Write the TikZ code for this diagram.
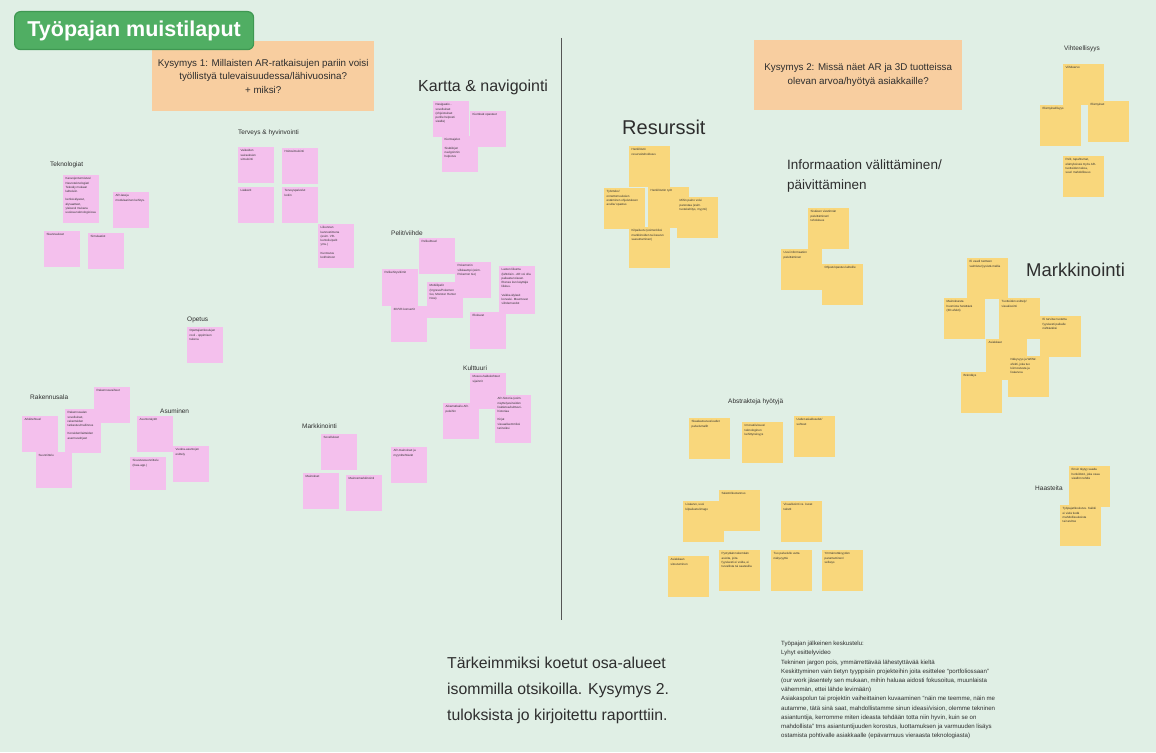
\documentclass[tikz,border=0pt]{standalone}
\usepackage{fontspec}
\setmainfont{Liberation Sans}
\usepackage{tikz}
\usetikzlibrary{positioning}
\definecolor{boardbg}{HTML}{E0EFE5}
\definecolor{notepink}{HTML}{F4C0ED}
\definecolor{noteyellow}{HTML}{F9D77C}
\definecolor{askfill}{HTML}{F8CEA0}
\definecolor{badgegreen}{HTML}{50AE63}
\definecolor{badgeline}{HTML}{3F9852}
\definecolor{inkdark}{HTML}{2E2E2E}
\definecolor{divline}{HTML}{555555}
\newcommand\notefont{\fontsize{3}{4.2}\selectfont}
\tikzset{
  notew/.store in=\notew, notew=31pt,
  noteh/.store in=\noteh, noteh=31pt,
  pnote/.style = {anchor=north west, fill=notepink, inner sep=2.5pt, font=\notefont,
                  text=inkdark, notew=31pt, noteh=31pt,
                  execute at begin node={\begin{minipage}[t][\noteh][t]{\notew}\raggedright},
                  execute at end node={\end{minipage}}},
  ynote/.style = {pnote, fill=noteyellow, notew=36pt, noteh=36pt},
  ask/.style   = {anchor=north west, fill=askfill, align=center, text=inkdark,
                  font=\fontsize{9.8}{13.6}\selectfont, inner sep=0pt},
  head/.style  = {anchor=west, inner sep=0pt, text=inkdark, font=\fontsize{6.5}{8}\selectfont},
  bighead/.style={anchor=west, inner sep=0pt, text=inkdark, align=left},
}

\begin{document}
\begin{tikzpicture}[x=1pt, y=-1pt]
  \useasboundingbox[fill=boardbg] (0,0) rectangle (1156,752);

  % kysymykset ja otsikko
  \node[ask, minimum width=222pt, minimum height=70pt] (ask1) at (152,41)
    {Kysymys 1: Millaisten AR-ratkaisujen pariin voisi\\työllistyä tulevaisuudessa/lähivuosina?\\+ miksi?};
  \node[ask, minimum width=208pt, minimum height=70pt] (ask2) at (754,40)
    {Kysymys 2: Missä näet AR ja 3D tuotteissa\\olevan arvoa/hyötyä asiakkaille?};
  \node[anchor=north west, fill=badgegreen, draw=badgeline, line width=1.2pt,
        rounded corners=6pt, minimum width=239pt, minimum height=38pt, inner sep=0pt,
        text=white, font=\fontsize{21.5}{24}\selectfont\bfseries] (badge) at (14,11) {Työpajan muistilaput};
  \coordinate (divtop) at (561,38);
  \coordinate (divbot) at (561,620);
  \draw[divline, line width=0.8pt] (divtop) -- (divbot);

  % vasen puoli: otsikot
  \node[head] (hTek) at (50,165) {Teknologiat};
  \node[head] (hTer) at (238,133) {Terveys \& hyvinvointi};
  \node[bighead, font=\fontsize{16}{18}\selectfont] (hKar) at (418,87) {Kartta \& navigointi};
  \node[head] (hPel) at (391,233) {Pelit/viihde};
  \node[head] (hOpe) at (187,320) {Opetus};
  \node[head] (hRak) at (30,397) {Rakennusala};
  \node[head] (hAsu) at (160,411) {Asuminen};
  \node[head] (hMar) at (302,426) {Markkinointi};
  \node[head] (hKul) at (463,368) {Kulttuuri};

  % Teknologiat
  \node[pnote, noteh=43pt] (tek1) at (63,175) {Kasvojentunnistus/\\Neuroteknologiat/\\Tekoäly mukaan\\laitteisiin.\\[4.2pt]kenkä älyasut,\\älyvaatteet,\\yleisesti mukana\\uusissa teknologioissa};
  \node[pnote] (tek2) at (113,192) {AR-laseja\\modulaarinen kehitys.};
  \node[pnote] (tek3) at (44,231) {Skannaukset};
  \node[pnote] (tek4) at (88,233) {Simulaatiot};

  % Terveys
  \node[pnote] (ter1) at (238,147) {Vaikeiden\\sairauksien\\simulointi};
  \node[pnote] (ter2) at (282,148) {Hoitosimulointi};
  \node[pnote] (ter3) at (238,187) {Lääkärit};
  \node[pnote] (ter4) at (282,187) {Terveyspalvelut\\kotiin};
  \node[pnote, noteh=39pt] (ter5) at (318,224) {Liikunnan\\kannustimena\\(esim. VR-\\kuntoilu/pelit\\yms.)\\[4.2pt]Kuntoutus\\kotihoitoon};

  % Kartta
  \node[pnote] (kar1) at (433,101) {Navigaatio -\\sovellukset\\(ohjeistukset\\perille helposti\\sisällä)};
  \node[pnote] (kar2) at (470,111) {Kiertävät opasteet};
  \node[pnote] (kar3) at (442,136) {Kiertoajelut.\\[4.2pt]Sisätilojen\\navigoinnin\\helpotus};

  % Pelit
  \node[pnote] (pel1) at (419,238) {Pelikulttuuri};
  \node[pnote] (pel2) at (455,262) {Pokemonin\\vilkkaampi (esim.\\Pokemon Go)};
  \node[pnote, noteh=32pt] (pel3) at (382,269) {Pelikehitys/tiimit};
  \node[pnote] (pel4) at (427,282) {Mobiilipelit\\(Ingress/Pokemon\\Go, Monster Hunter\\Now)};
  \node[pnote] (pel5) at (391,306) {3D/VR-konsertit};
  \node[pnote, noteh=43pt] (pel6) at (499,266) {Lasten liikunta\\(lähtöisin - AR voi olla\\paikasta toiseen.\\Etenee kun käyttäjä\\liikkuu.\\[4.2pt]Vaikka älylasit\\korvaisi. Muuntuvat\\viihdemuodot};
  \node[pnote, noteh=32pt] (pel7) at (470,312) {Elokuvat};

  % Opetus
  \node[pnote] (ope1) at (187,327) {Opettajien/koulujen\\rooli - oppimisen\\tukena};

  % Rakennusala
  \node[pnote] (rak1) at (94,387) {Rakennusvaiheet};
  \node[pnote] (rak2) at (22,416) {Arkkitehtuuri};
  \node[pnote, noteh=39pt] (rak3) at (65,409) {Rakennusalan\\sovellukset,\\rakenteiden\\tarkastus/mallinnus\\[4.2pt]Koneiden/laitteiden\\asennusohjeet};
  \node[pnote] (rak4) at (36,452) {Suunnittelu};

  % Asuminen
  \node[pnote] (asu1) at (137,416) {Asuntonäytöt};
  \node[pnote] (asu2) at (173,446) {Vuokra-asuntojen\\esittely};
  \node[pnote, noteh=28pt] (asu3) at (130,457) {Sisustussuunnittelu\\(Ikea-app.)};

  % Markkinointi
  \node[pnote] (mar1) at (321,434) {Sovellukset};
  \node[pnote] (mar2) at (303,473) {Mainokset};
  \node[pnote] (mar3) at (346,475) {Mainosmarkkinointi};
  \node[pnote] (mar4) at (391,447) {AR-mainokset ja\\myyntitehtävät};

  % Kulttuuri
  \node[pnote] (kul1) at (470,373) {Museo-/taidekohteet\\sijainnit};
  \node[pnote] (kul2) at (443,403) {Aikamatkailu AR-\\peleihin};
  \node[pnote, noteh=43pt] (kul3) at (495,395) {AR-historia (esim.\\näyttelyesineiden\\lisätietoa/kulttuuri-\\historiaa\\[4.2pt]Kirjat\\visuaalisemmiksi\\tarinoiksi};

  % oikea puoli: otsikot
  \node[bighead, font=\fontsize{20}{22}\selectfont] (hRes) at (622,127) {Resurssit};
  \node[bighead, font=\fontsize{13.5}{20}\selectfont, anchor=north west] (hInf) at (787,160) {Informaation välittäminen/\\päivittäminen};
  \node[bighead, font=\fontsize{18.5}{20}\selectfont] (hMk) at (1026,270) {Markkinointi};
  \node[head] (hVii) at (1064,49) {Vihteellisyys};
  \node[head] (hAbs) at (728,402) {Abstrakteja hyötyjä};
  \node[head] (hHaa) at (1035,488) {Haasteita};

  % Resurssit
  \node[ynote] (res1) at (629,146) {Henkilöstö\\resurssitehokkuus};
  \node[ynote] (res2) at (604,188) {Työnteko/ onnettomuuksien\\estäminen ohjeistuksen\\avulla/ opastus};
  \node[ynote] (res3) at (648,187) {Henkilöstön työt};
  \node[ynote] (res4) at (677,197) {Mihin paino voisi\\panostaa (esim.\\tuotekehitys, myynti)};
  \node[ynote] (res5) at (629,227) {Kilpailuetu (esimerkiksi\\markkinoiden tai kasvun\\saavuttaminen)};

  % Informaatio
  \node[ynote] (inf1) at (808,208) {Sisäisen viestinnän\\päivittäminen/\\tehokkuus};
  \node[ynote] (inf2) at (781,249) {Uusi informaation\\päivittäminen};
  \node[ynote] (inf3) at (822,264) {Ohjeet/opastus laitteille};

  % Markkinointi
  \node[ynote] (mk1) at (967,258) {Ei vaadi tuotteen\\valmista fyysistä mallia};
  \node[ynote] (mk2) at (944,298) {Mainoksesta\\huomiota herättävä\\(3D-efekti)};
  \node[ynote] (mk3) at (999,298) {Tuotteiden esittely/\\visualisointi};
  \node[ynote] (mk4) at (1040,316) {Ei tarvitse tuotetta\\fyysisesti paikalle\\nähtäväksi};
  \node[ynote] (mk5) at (986,339) {Asiakkaat};
  \node[ynote] (mk6) at (1008,356) {Näkyvyys ja WOW-\\efekti, joka tuo\\kiinnostusta ja\\lisäarvoa};
  \node[ynote] (mk7) at (961,372) {Brändäys};

  % Vihteellisyys
  \node[ynote] (vii1) at (1063,64) {Viihdearvo};
  \node[ynote] (vii2) at (1040,105) {Elämyksellisyys};
  \node[ynote] (vii3) at (1088,101) {Elämykset};
  \node[ynote] (vii4) at (1063,156) {Pelit, tapahtumat,\\elämyksissä myös AR-\\tuotteiden tekoa,\\suuri mahdollisuus};

  % Abstrakteja hyotyja
  \node[ynote] (abs1) at (689,418) {Skaalautuvuus/uudet\\palvelumallit};
  \node[ynote] (abs2) at (742,422) {Innovatiivisuus/\\teknologinen\\kehittyneisyys};
  \node[ynote] (abs3) at (794,416) {Uudet asiakkuudet/\\suhteet};
  \node[ynote] (abs5) at (683,501) {Lisäarvo, uusi\\kilpailuetu/imago};
  \node[ynote] (abs4) at (719,490) {Säästö/kustannus};
  \node[ynote] (abs6) at (781,501) {Visualisointi vs. kuvat\\tekstit};
  \node[ynote] (abs7) at (668,556) {Asiakkaan\\sitoutuminen};
  \node[ynote] (abs8) at (719,550) {Pystytään tekemään\\asioita, joita\\fyysisesti ei voida, ei\\turvallista tai saatavilla};
  \node[ynote] (abs9) at (771,550) {Tuo palvelulle uutta\\näkyvyyttä};
  \node[ynote] (abs10) at (822,550) {Ymmärrettävyyden\\parantaminen/\\selkeys};

  % Haasteita
  \node[ynote] (haa1) at (1069,466) {Ensin täytyy saada\\henkilöstö, joka osaa\\sisällön tehdä};
  \node[ynote] (haa2) at (1060,505) {Työpajat/koulutus. Kaikki\\ei vielä tiedä\\mahdollisuuksista\\tai tarvitse};

  % alaosan tekstit
  \node[anchor=north west, inner sep=0pt, align=left, text=inkdark,
        font=\fontsize{15.8}{26}\selectfont] (summary) at (447,657)
    {Tärkeimmiksi koetut osa-alueet\\isommilla otsikoilla. Kysymys 2.\\tuloksista jo kirjoitettu raporttiin.};
  \node[anchor=north west, inner sep=0pt, align=left, text=inkdark,
        font=\fontsize{6.1}{9.2}\selectfont] (notes) at (781,641)
    {Työpajan jälkeinen keskustelu:\\
     Lyhyt esittelyvideo\\
     Tekninen jargon pois, ymmärrettävää lähestyttävää kieltä\\
     Keskittyminen vain tietyn tyyppisiin projekteihin joita esittelee “portfoliossaan”\\
     (our work jäsentely sen mukaan, mihin haluaa aidosti fokusoitua, muunlaista\\
     vähemmän, ettei lähde levimään)\\
     Asiakaspolun tai projektin vaiheittainen kuvaaminen “näin me teemme, näin me\\
     autamme, tätä sinä saat, mahdollistamme sinun ideasi/vision, olemme tekninen\\
     asiantuntija, kerromme miten ideasta tehdään totta niin hyvin, kuin se on\\
     mahdollista” tms asiantuntijuuden korostus, luottamuksen ja varmuuden lisäys\\
     ostamista pohtivalle asiakkaalle (epävarmuus vieraasta teknologiasta)};
\end{tikzpicture}
\end{document}
